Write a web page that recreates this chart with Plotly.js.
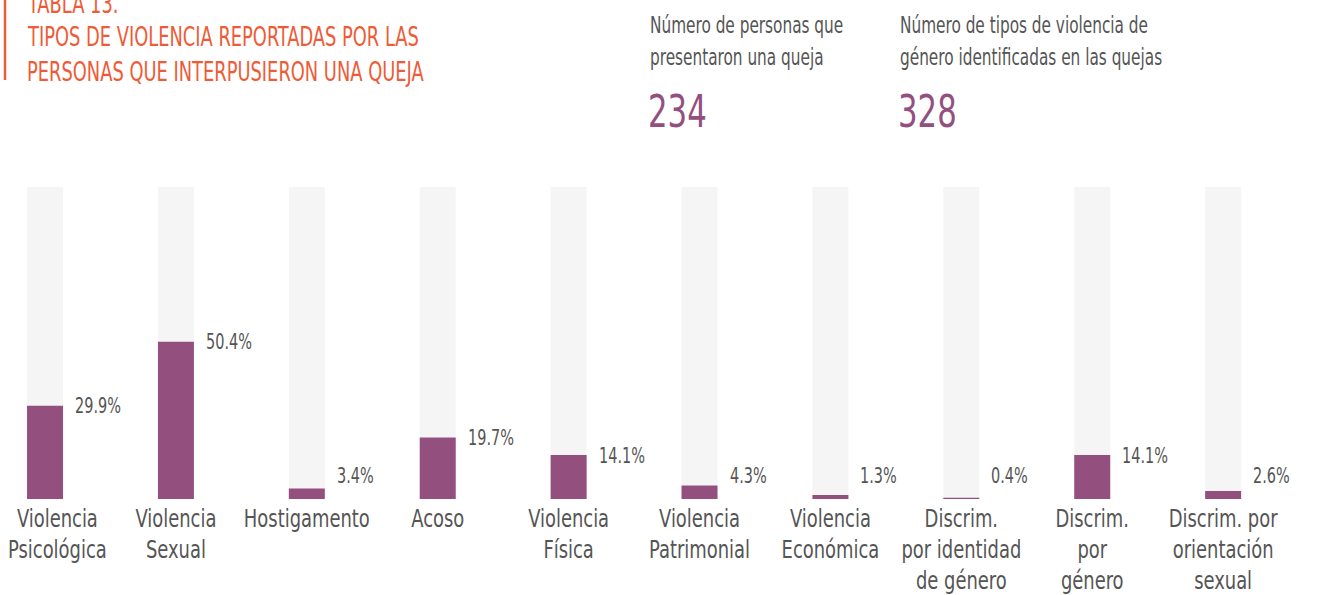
<!DOCTYPE html>
<html>
<head>
<meta charset="utf-8">
<script src="https://cdn.plot.ly/plotly-3.0.1.min.js"></script>
<style>
html,body{margin:0;padding:0;background:#fff;}
#chart{width:1320px;height:595px;}
</style>
</head>
<body>
<div id="chart"></div>
<script>
// ---- Data ----
const categories = [
  "Violencia<br>Psicológica",
  "Violencia<br>Sexual",
  "Hostigamento",
  "Acoso",
  "Violencia<br>Física",
  "Violencia<br>Patrimonial",
  "Violencia<br>Económica",
  "Discrim.<br>por identidad<br>de género",
  "Discrim.<br>por<br>género",
  "Discrim. por<br>orientación<br>sexual"
];
const percentages = [29.9, 50.4, 3.4, 19.7, 14.1, 4.3, 1.3, 0.4, 14.1, 2.6];
const totalScale = [100, 100, 100, 100, 100, 100, 100, 100, 100, 100];
const personasQueja = 234;
const tiposViolencia = 328;
const titleLines = ["TABLA 13.", "TIPOS DE VIOLENCIA REPORTADAS POR LAS", "PERSONAS QUE INTERPUSIERON UNA QUEJA"];
const headerPersonas = ["Número de personas que", "presentaron una queja"];
const headerTipos = ["Número de tipos de violencia de", "género identificadas en las quejas"];

// ---- Style ----
const FONT = "'DejaVu Sans Condensed', 'DejaVu Sans', sans-serif";
const PURPLE = "#93507f";
const GRAY = "#555555";
const ORANGE = "#ee5b36";
const idx = categories.map((_, i) => i);

const traces = [
  {type: "bar", x: idx, y: totalScale, width: 0.275, marker: {color: "#f5f5f5"}, hoverinfo: "skip"},
  {type: "bar", x: idx, y: percentages, width: 0.275, marker: {color: PURPLE}, hoverinfo: "skip"}
];

const H = 312, BOTTOM = 499;
const py = p => (BOTTOM - p) / H; // pixel -> paper y

function note(x, yPix, text, size, color) {
  return {x: x / 1320, y: py(yPix), xref: "paper", yref: "paper", text: text,
    showarrow: false, xanchor: "left", yanchor: "middle", align: "left",
    font: {family: FONT, size: size, color: color}};
}

const annotations = [];
percentages.forEach((v, i) => {
  annotations.push({
    x: i, y: Math.max(v, 7.5), xref: "x", yref: "y",
    text: v.toFixed(1) + "%", showarrow: false,
    xanchor: "left", yanchor: "middle", align: "left", xshift: 28,
    font: {family: FONT, size: 22, color: GRAY}
  });
});
titleLines.forEach((t, i) => annotations.push(note(25, 3 + i * 34, t, 27, ORANGE)));
headerPersonas.forEach((t, i) => annotations.push(note(648, 25 + i * 32, t, 23, GRAY)));
headerTipos.forEach((t, i) => annotations.push(note(898, 25 + i * 32, t, 23, GRAY)));
annotations.push(note(646, 112, String(personasQueja), 45, PURPLE));
annotations.push(note(896, 112, String(tiposViolencia), 45, PURPLE));

const layout = {
  width: 1320, height: 595,
  margin: {l: 0, r: 0, t: 187, b: 96},
  paper_bgcolor: "#fff", plot_bgcolor: "#fff",
  barmode: "overlay", showlegend: false,
  xaxis: {
    range: [-0.344, 9.74], tickvals: idx, ticktext: categories, tickangle: 0,
    showgrid: false, zeroline: false, showline: false, ticks: "",
    tickfont: {family: FONT, size: 24, color: GRAY}, ticklabelstandoff: 3,
    ticklabeloverflow: "allow", automargin: false
  },
  yaxis: {range: [0, 100], visible: false, showgrid: false, zeroline: false},
  shapes: [{type: "line", xref: "paper", yref: "paper", x0: 5/1320, x1: 5/1320, y0: py(-2), y1: py(80), line: {color: ORANGE, width: 2.5}}],
  annotations: annotations
};

// horizontal condensing factor per font size (emulates a condensed typeface)
const squeeze = {27: 0.735, 24: 0.83, 22: 0.73, 23: 0.74, 45: 0.76};
function condense() {
  document.querySelectorAll('#chart svg text').forEach(t => {
    const fs = Math.round(parseFloat(t.style.fontSize || getComputedStyle(t).fontSize));
    const f = squeeze[fs];
    if (!f) return;
    const lines = t.querySelectorAll('tspan.line');
    const targets = lines.length ? Array.from(lines) : [t];
    targets.forEach(el => {
      const L = el.getComputedTextLength();
      if (L > 0) {
        el.setAttribute('textLength', (L * f).toFixed(2));
        el.setAttribute('lengthAdjust', 'spacingAndGlyphs');
      }
    });
  });
  // keep tick labels inside the page (left edge)
  const MIN_LEFT = 8;
  document.querySelectorAll('#chart .xtick text').forEach(t => {
    const left = t.getBoundingClientRect().left - document.getElementById('chart').getBoundingClientRect().left;
    if (left < MIN_LEFT) {
      const d = MIN_LEFT - left;
      [t, ...t.querySelectorAll('tspan.line')].forEach(el => {
        const x = parseFloat(el.getAttribute('x') || 0);
        el.setAttribute('x', x + d);
      });
    }
  });
}

Plotly.newPlot("chart", traces, layout, {displayModeBar: false, staticPlot: true}).then(condense);
</script>
</body>
</html>
